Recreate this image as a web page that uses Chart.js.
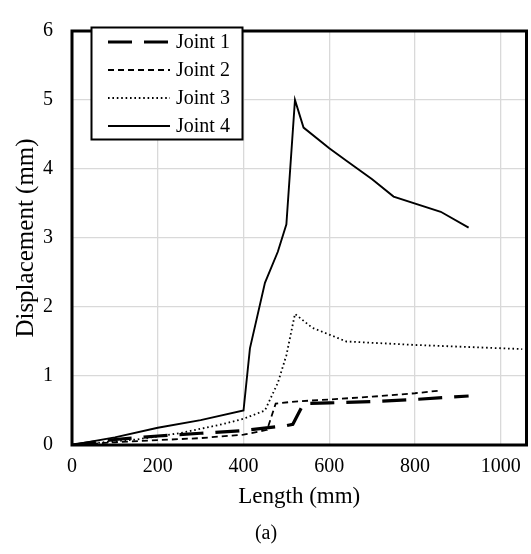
<!DOCTYPE html>
<html>
<head>
<meta charset="utf-8">
<script src="https://cdn.jsdelivr.net/npm/chart.js@4.4.1/dist/chart.umd.min.js"></script>
<style>
  html, body { margin: 0; padding: 0; background: #fff; }
  canvas { display: block; }
</style>
</head>
<body>
<canvas id="chart" width="531" height="554"></canvas>
<script>
// Values (Length in mm, Displacement in mm)
const joint1Length = [0, 100, 200, 300, 400, 500, 515, 540, 600, 700, 800, 925];
const joint1Disp   = [0, 0.08, 0.13, 0.17, 0.21, 0.28, 0.30, 0.60, 0.61, 0.63, 0.66, 0.71];

const joint2Length = [0, 100, 200, 300, 400, 455, 475, 520, 600, 700, 800, 860];
const joint2Disp   = [0, 0.04, 0.07, 0.10, 0.15, 0.22, 0.60, 0.63, 0.66, 0.70, 0.75, 0.79];

const joint3Length = [0, 150, 250, 350, 400, 450, 480, 500, 520, 560, 640, 800, 1050];
const joint3Disp   = [0, 0.08, 0.17, 0.30, 0.38, 0.50, 0.90, 1.30, 1.90, 1.70, 1.50, 1.45, 1.39];

const joint4Length = [0, 100, 200, 300, 400, 415, 450, 480, 500, 520, 540, 600, 640, 700, 750, 860, 925];
const joint4Disp   = [0, 0.11, 0.25, 0.36, 0.50, 1.40, 2.35, 2.80, 3.20, 5.00, 4.60, 4.30, 4.12, 3.85, 3.60, 3.38, 3.15];

const seriesNames = ['Joint 1', 'Joint 2', 'Joint 3', 'Joint 4'];
const xTickLabels = [0, 200, 400, 600, 800, 1000];
const yTickLabels = [0, 1, 2, 3, 4, 5, 6];

const serif = "'Liberation Serif', 'Times New Roman', serif";

function pts(xs, ys) {
    return xs.map((x, i) => ({ x: x, y: ys[i] }));
}

// Draws the framed plot area, the boxed legend inside it and the caption
const framePlugin = {
    id: 'frame',
    afterDraw(chart) {
        const ctx = chart.ctx;
        const a = chart.chartArea;
        ctx.save();
        ctx.strokeStyle = '#000';
        ctx.lineWidth = 3;
        ctx.strokeRect(a.left, a.top, a.right - a.left, a.bottom - a.top);

        // legend box
        const bx = 91.5, by = 27.5, bw = 151, bh = 112;
        ctx.fillStyle = '#fff';
        ctx.fillRect(bx, by, bw, bh);
        ctx.lineWidth = 2;
        ctx.strokeRect(bx, by, bw, bh);
        ctx.font = '20px ' + serif;
        ctx.textBaseline = 'middle';
        ctx.textAlign = 'left';
        chart.data.datasets.forEach((ds, i) => {
            const y = 42 + i * 28;
            ctx.beginPath();
            ctx.setLineDash(ds.borderDash || []);
            ctx.lineWidth = ds.borderWidth;
            ctx.strokeStyle = ds.borderColor;
            ctx.moveTo(108, y);
            ctx.lineTo(170, y);
            ctx.stroke();
            ctx.setLineDash([]);
            ctx.fillStyle = '#000';
            ctx.fillText(ds.label, 176, y + 1);
        });

        // caption
        ctx.textAlign = 'center';
        ctx.fillText('(a)', 266, 534);
        ctx.restore();
    }
};

const ctx = document.getElementById('chart');
new Chart(ctx, {
    type: 'line',
    data: {
        datasets: [
            { label: seriesNames[0], data: pts(joint1Length, joint1Disp), borderColor: '#000', borderWidth: 3.2, borderDash: [24, 12] },
            { label: seriesNames[1], data: pts(joint2Length, joint2Disp), borderColor: '#000', borderWidth: 1.8, borderDash: [6, 4] },
            { label: seriesNames[2], data: pts(joint3Length, joint3Disp), borderColor: '#000', borderWidth: 1.8, borderDash: [1.6, 2.8] },
            { label: seriesNames[3], data: pts(joint4Length, joint4Disp), borderColor: '#000', borderWidth: 1.9 }
        ]
    },
    options: {
        responsive: false,
        animation: false,
        devicePixelRatio: 1,
        elements: { point: { radius: 0 }, line: { tension: 0, fill: false } },
        layout: { padding: { left: 0, top: 13, right: 4, bottom: 43 } },
        plugins: { legend: { display: false }, tooltip: { enabled: false } },
        scales: {
            x: {
                type: 'linear',
                min: 0,
                max: 1060,
                afterFit(scale) { scale.height = 66; },
                afterBuildTicks(scale) { scale.ticks = xTickLabels.map(v => ({ value: v })); },
                grid: { color: '#d9d9d9', lineWidth: 1.3, drawTicks: false },
                border: { display: false },
                ticks: { color: '#000', padding: 10, font: { family: serif, size: 20 }, callback: v => String(v) },
                title: { display: true, text: 'Length (mm)', color: '#000', padding: 0, font: { family: serif, size: 23 } }
            },
            y: {
                type: 'linear',
                min: 0,
                max: 6,
                afterFit(scale) { scale.width = 72; },
                afterBuildTicks(scale) { scale.ticks = yTickLabels.map(v => ({ value: v })); },
                grid: { color: '#d9d9d9', lineWidth: 1.3, drawTicks: false },
                border: { display: false },
                ticks: { color: '#000', padding: 19, font: { family: serif, size: 20 }, callback: v => String(v) },
                title: { display: true, text: 'Displacement (mm)', color: '#000', padding: { top: 11, bottom: 0 }, font: { family: serif, size: 25 } }
            }
        }
    },
    plugins: [framePlugin]
});
</script>
</body>
</html>
